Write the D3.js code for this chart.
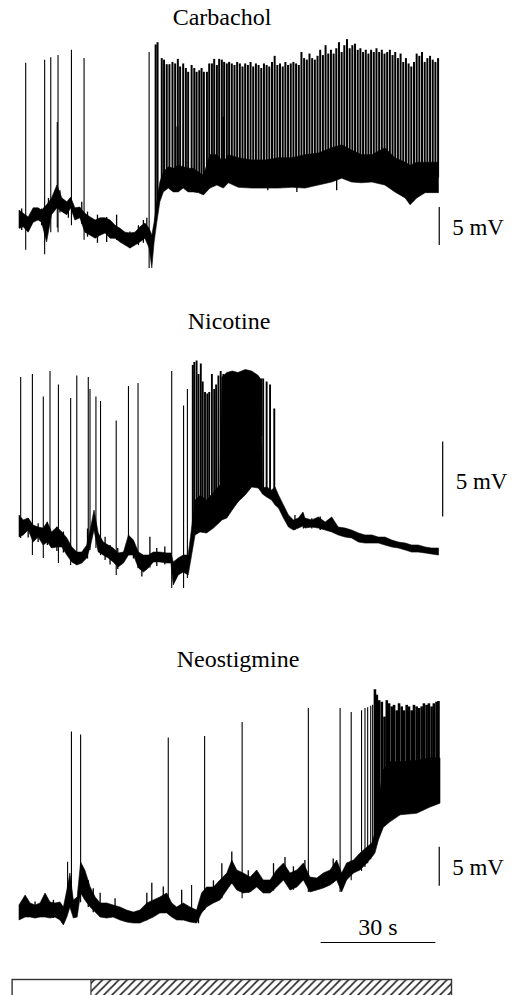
<!DOCTYPE html>
<html>
<head>
<meta charset="utf-8">
<script src="https://cdn.jsdelivr.net/npm/d3@7"></script>
<style>
  body { margin: 0; background: #fff; }
  svg { display: block; }
  text { font-family: "Liberation Serif", "Times New Roman", serif; fill: #000; }
</style>
</head>
<body>
<div id="chart"></div>
<script>
// Noise band of each trace: [time s, low mV, high mV]
const carbEnv = [
  [0, -1.1, 1.3], [1.1, -0.9, 0.9], [2.4, -1.6, 0.4], [3.7, -0.3, 1.6], [5.0, 0, 1.6], [5.9, -0.3, 1.3],
  [7.2, -2.9, 2.0], [8.5, 0.7, 2.9], [9.9, 1.6, 4.6], [11.2, 1.1, 2.9], [12.5, 0.7, 2.4], [13.5, 1.6, 3.0],
  [14.6, 0, 1.6], [15.9, 0.3, 1.7], [17.2, -1.6, 0.9], [18.6, -2.0, 0.4], [19.9, -2.4, 0], [21.2, -2.0, 0.3],
  [22.5, -1.7, 0.3], [23.8, -2.4, 0], [25.1, -2.4, -0.7], [26.4, -2.9, -1.1], [27.7, -3.3, -1.6], [29.0, -3.7, -1.7],
  [30.3, -3.3, -1.6], [31.6, -2.9, -0.9], [32.9, -2.4, -0.4], [34.0, -3.7, -1.1], [34.7, -6.3, -2.0], [35.3, -2.9, -0.3],
  [36.0, -0.3, 2.4], [36.8, 2.4, 5.0], [37.7, 3.7, 6.3], [39.0, 4.2, 7.0], [40.3, 3.7, 6.8], [41.6, 3.7, 7.2],
  [42.9, 4.2, 7.0], [44.2, 3.7, 6.8], [45.5, 3.7, 6.8], [46.9, 3.6, 6.3], [48.2, 3.3, 5.9], [49.9, 4.2, 8.6],
  [51.7, 4.6, 8.6], [53.4, 4.2, 7.6], [54.7, 4.9, 8.6], [57.3, 4.3, 8.2], [60.8, 4.2, 7.9], [64.3, 4.2, 7.9],
  [67.8, 4.2, 8.2], [71.3, 4.3, 8.2], [74.7, 4.2, 8.6], [78.2, 4.6, 8.8], [81.7, 5.0, 9.5], [84.3, 5.5, 9.9],
  [86.9, 5.0, 9.2], [89.5, 4.9, 8.6], [92.2, 5.0, 8.6], [95.6, 4.6, 9.5], [98.2, 3.7, 8.2], [100.9, 2.9, 7.6],
  [102.2, 2.0, 7.2], [103.9, 2.9, 7.6], [106.1, 3.6, 7.6], [109.6, 3.6, 7.6]
];

// Action potentials: [time s, peak mV, trough mV (only for isolated ones)]
const carbSpikes = [
  [1.75, 20.7, -3.9], [6.7, 21.1, -4.5], [8.3, 21.4, -1.6], [10.0, 12.9, -1.0], [10.2, 21.7, -1.6],
  [13.7, 22.4, -0.7], [17.0, 21.3, -2.6], [34.0, 22.1, -6.3],
  [35.7, 23.1], [36.2, 23.4], [37.3, 21.3], [37.9, 21.1], [38.6, 20.5], [39.3, 20.5], [40.1, 20.8],
  [40.8, 20.6], [41.4, 12.3], [41.5, 21.2], [42.1, 20.2], [42.9, 20.6], [43.6, 20.0], [44.2, 19.5], [45.1, 20.4],
  [45.8, 20.0], [46.4, 19.5], [47.1, 19.7], [47.7, 20.0], [48.3, 19.5], [49.1, 19.5], [49.7, 20.6],
  [50.4, 20.6], [51.0, 21.2], [51.7, 20.4], [52.3, 21.2], [53.0, 21.1], [53.4, 13.6], [53.6, 20.8], [54.3, 20.6],
  [54.9, 20.8], [55.6, 20.6], [56.3, 20.4], [57.0, 20.8], [57.7, 20.6], [58.4, 20.2], [59.1, 20.6],
  [59.8, 20.4], [60.5, 20.8], [61.2, 20.2], [61.9, 20.6], [62.6, 20.4], [63.3, 20.0], [64.0, 20.6],
  [64.7, 20.4], [65.4, 20.2], [66.1, 20.8], [66.8, 21.6], [67.5, 20.4], [68.2, 20.6], [68.9, 20.2],
  [69.6, 20.8], [70.3, 20.4], [71.0, 20.6], [71.7, 20.8], [72.4, 20.6], [73.1, 20.4], [73.8, 22.1],
  [74.5, 21.3], [75.2, 21.1], [75.9, 21.9], [76.6, 21.3], [77.3, 21.1], [78.0, 21.6], [78.7, 22.4],
  [79.4, 21.7], [80.1, 23.0], [80.8, 21.9], [81.5, 22.4], [82.2, 21.9], [82.9, 22.6], [83.6, 23.4],
  [84.3, 22.1], [85.0, 23.0], [85.7, 23.8], [86.4, 22.6], [87.1, 23.0], [87.8, 23.2], [88.5, 22.4],
  [89.2, 22.6], [89.9, 22.1], [90.6, 22.4], [91.3, 21.9], [92.0, 22.4], [92.7, 22.1], [93.4, 22.6],
  [94.1, 22.1], [94.8, 22.4], [95.5, 21.9], [96.2, 22.1], [96.9, 22.4], [97.6, 21.7], [98.3, 22.1],
  [99.0, 21.3], [99.7, 21.9], [100.4, 20.8], [101.1, 21.3], [101.8, 20.6], [102.5, 20.2], [103.2, 20.8],
  [103.9, 21.9], [104.6, 21.6], [105.3, 22.1], [106.0, 20.8], [106.7, 21.3], [107.4, 21.6], [108.1, 21.1],
  [108.8, 20.8], [109.5, 21.3]
];

// Small transients poking out of the noise band: [time s, high mV, low mV]
const carbNoise = [
  [0.7, 1.5, -1.3], [5.9, 1.5, -0.7], [7.7, 2.9, -1.0], [10.7, 3.9, 1.0], [12.9, 2.4, 0.3], [16.4, 2.4, -0.5],
  [17.9, 1.1, -2.2], [20.5, 0.7, -3.0], [22.9, 0.4, -2.9], [25.5, 0.7, -2.6], [29.0, -1.5, -3.7],
  [31.2, -0.7, -3.3], [32.5, 0, -3.0], [33.4, 0.3, -2.5],
  [65.0, 6.0, 3.9], [72.6, 6.0, 3.7], [83.0, 7.0, 3.9], [102.6, 5.0, 2.6]
];

const nicEnv = [
  [0, -0.47, 1.0], [1.1, -0.33, 0.67], [2.4, 0, 0.8], [3.7, -0.8, 0.33], [5.0, -0.47, 0.2], [6.3, -1.0, 0.13],
  [7.4, -0.8, 0.53], [8.5, -1.2, -0.13], [9.9, -1.13, 0.2], [11.2, -1.13, -0.13], [12.5, -1.67, -0.53],
  [13.8, -2.13, -1.13], [15.1, -2.33, -1.47], [16.4, -2.2, -1.47], [17.7, -1.87, -1.0], [18.6, -1.13, 0],
  [19.6, 0, 1.33], [20.7, -1.47, -0.2], [22.0, -1.67, -0.8], [23.3, -1.87, -1.0], [24.6, -2.13, -1.2],
  [25.9, -2.47, -1.53], [27.3, -2.2, -1.47], [28.6, -1.67, -0.33], [29.9, -1.67, -0.67], [31.2, -2.53, -1.47],
  [32.5, -2.8, -1.67], [33.8, -2.53, -1.67], [35.1, -2.13, -1.47], [36.8, -2.13, -1.47], [38.6, -2.2, -1.53],
  [39.7, -2.2, -1.53], [40.3, -3.67, -2.13], [41.6, -3.0, -1.87], [42.9, -2.8, -1.67], [44.2, -3.0, -1.67],
  [45.1, -1.67, 0.13], [46.0, -0.33, 2.0], [47.3, -0.13, 2.3], [49.0, -0.2, 2.0], [50.8, 0.13, 2.5],
  [52.5, 0.53, 3.0], [53.0, 0.67, 10.2], [54.3, 0.8, 10.5], [55.7, 1.33, 10.6], [57.2, 1.87, 10.5],
  [59.1, 2.33, 10.7], [60.8, 2.87, 10.6], [62.5, 2.8, 10.3], [63.3, 2.53, 10.0], [63.6, 2.4, 2.8],
  [64.7, 2.2, 2.87], [66.0, 2.0, 2.67], [66.9, 1.67, 2.87], [67.8, 1.47, 2.33], [69.1, 0.8, 1.67],
  [70.4, 0.2, 1.0], [71.7, 0, 0.67], [73.0, 0.13, 0.8], [74.2, 0.27, 1.2], [74.7, 0.13, 0.8], [76.5, 0.2, 0.67],
  [78.2, 0.13, 0.87], [80.0, 0, 0.53], [81.7, -0.13, 0.87], [83.4, -0.33, 0.2], [85.2, -0.47, 0.13],
  [86.9, -0.53, 0], [88.7, -0.8, -0.2], [90.4, -0.87, -0.33], [92.2, -0.87, -0.33], [93.9, -0.87, -0.47],
  [95.6, -1.0, -0.47], [97.4, -1.13, -0.67], [99.1, -1.2, -0.8], [100.9, -1.33, -0.87], [102.6, -1.47, -1.0],
  [104.3, -1.47, -1.0], [106.1, -1.53, -1.13], [107.8, -1.6, -1.2], [109.6, -1.67, -1.2]
];

const nicSpikes = [
  [0.44, 10.2, -0.53], [3.5, 10.4, -1.67], [6.35, 8.9, -1.87], [8.1, 10.6, -0.78], [10.3, 9.7, -2.2],
  [13.5, 8.8, -2.33], [15.1, 10.3, -1.87], [18.1, 10.2, -0.78], [18.55, 9.4, -1.33], [20.1, 8.9, -1.2],
  [21.3, 8.6, -1.67], [25.4, 7.3, -3.0], [28.6, 9.6, -1.67], [31.1, 9.8, -2.53], [39.9, 10.6, -3.87],
  [43.0, 8.3, -3.87], [44.0, 9.4, -3.2],
  [45.4, 11.0], [45.8, 11.2], [46.4, 11.3], [46.9, 10.4], [47.5, 11.1], [48.0, 9.9], [48.6, 9.2],
  [49.2, 9.1], [49.7, 9.2], [50.4, 10.4], [51.0, 9.4], [51.5, 9.7], [52.1, 10.3], [52.7, 10.6], [53.4, 10.4],
  [63.3, 10.1], [63.8, 10.1], [64.7, 9.9], [65.6, 9.7], [66.7, 8.1]
];

const nicNoise = [
  [2.4, 0.78, -0.5], [5.0, 0.45, -0.8], [7.4, 0.55, -1.0], [9.9, 0.22, -1.4], [11.6, -0.1, -1.5],
  [17.9, 0.1, -1.9], [22.5, -0.45, -2.0], [23.8, -1.0, -2.3], [25.8, -1.2, -2.6], [29.9, -0.8, -1.9],
  [32.1, -2.1, -3.1], [34.2, -0.45, -2.5], [36.0, -1.2, -2.4], [38.1, -1.1, -2.3],
  [72.1, 1.0, 0], [74.3, 1.05, 0.1], [76.5, 0.78, 0.1], [78.7, 0.9, 0], [81.7, 0.78, -0.1]
];

const neoEnv = [
  [0, -1.28, 0.64], [1.6, -0.9, 1.92], [2.9, -0.9, 0.9], [4.2, -1.03, 0.64], [5.5, -0.9, 0.9], [6.8, -0.9, 2.18],
  [8.1, -1.03, 1.03], [9.4, -0.9, 0.9], [10.7, -1.28, 1.03], [11.6, -1.92, 0.38], [12.5, -0.9, 2.56],
  [13.3, 0.38, 4.74], [14.2, -1.03, 1.28], [15.2, -0.9, 1.67], [16.1, 2.18, 6.15], [17.2, 1.28, 5.13],
  [18.6, 0.38, 2.95], [19.9, -0.26, 1.67], [21.2, -0.9, 0.9], [22.9, -1.03, 0.9], [24.6, -0.9, 0.64],
  [26.4, -1.28, 0.38], [28.1, -1.54, 0], [29.9, -1.67, -0.26], [31.6, -1.67, 0], [33.4, -1.28, 0.9],
  [35.1, -0.9, 1.28], [36.8, -0.38, 1.67], [38.6, -0.38, 2.18], [39.9, -0.9, 0.9], [41.2, -1.28, 0.38],
  [42.9, -1.28, 0.9], [44.7, -1.54, 0.38], [46.4, -1.67, 0], [47.7, -0.38, 2.18], [49.0, 0.38, 2.95],
  [50.8, 0.9, 2.95], [52.5, 1.28, 3.85], [54.3, 2.56, 4.74], [55.6, 3.46, 6.41], [56.9, 2.56, 5.13],
  [58.6, 2.18, 4.74], [60.4, 2.31, 4.23], [62.1, 2.95, 5.13], [63.8, 2.18, 3.85], [65.6, 2.18, 3.85],
  [67.3, 2.95, 5.13], [69.1, 3.85, 6.03], [70.8, 2.56, 4.74], [72.6, 2.95, 5.13], [74.3, 3.85, 6.03],
  [76.0, 2.31, 4.23], [77.8, 2.56, 4.1], [79.5, 2.82, 4.74], [81.3, 3.21, 5.13], [83.0, 3.85, 6.41],
  [84.3, 2.31, 4.74], [85.6, 3.85, 6.03], [87.4, 4.74, 6.41], [89.1, 5.13, 7.31], [90.9, 6.03, 8.08],
  [92.2, 6.79, 8.59], [93.0, 7.31, 9.87], [93.9, 8.97, 14.0], [95.2, 10.6, 18.0], [96.9, 11.3, 19.0],
  [99.6, 12.2, 19.0], [103.9, 12.4, 19.2], [107.4, 13.2, 19.5], [110.0, 13.7, 19.5]
];

const neoSpikes = [
  [12.7, 6.2, 0.4], [13.7, 22.9, 0.4], [16.1, 22.5, 1.0], [39.0, 22.1, -0.4], [45.1, 3.2, -1.0],
  [48.5, 22.3, 0], [58.3, 24.1, 1.5], [75.6, 25.9, 2.3], [83.9, 25.9, 2.3], [86.8, 25.4, 3.8],
  [89.5, 25.6, 5.0], [90.4, 25.9, 5.5], [91.1, 26.0, 6.0], [91.9, 26.2, 6.5], [92.4, 26.3, 7.0],
  [93.0, 28.3], [93.5, 27.6], [94.1, 26.9], [94.8, 26.7], [95.5, 24.8], [96.1, 26.9], [96.7, 26.5],
  [97.4, 26.1], [98.0, 26.3], [98.7, 25.6], [99.3, 26.5], [100.0, 26.1], [100.6, 25.6], [101.3, 26.3],
  [101.9, 26.1], [102.6, 25.6], [103.2, 26.3], [103.9, 26.1], [104.5, 25.9], [105.2, 26.1], [105.8, 26.5],
  [106.5, 26.3], [107.1, 26.5], [107.8, 26.1], [108.4, 26.5], [109.1, 26.7], [109.6, 26.8]
];

const neoNoise = [
  [4.2, 1.1, -1.0], [9.0, 1.3, -1.0], [18.1, 3.8, 0.4], [19.4, 2.8, -0.3], [21.2, 2.2, -0.9], [25.1, 1.5, -0.9],
  [33.4, 2.2, -1.3], [34.7, 3.5, -0.9], [37.7, 3.0, -0.4], [42.5, 2.6, -1.3], [46.9, 0, -1.7], [50.8, 3.8, 0.9],
  [53.0, 6.0, 1.5], [55.6, 7.5, 3.4], [59.9, 5.1, 2.2], [66.5, 6.0, 2.5], [69.5, 6.8, 3.8], [71.7, 5.6, 2.6],
  [74.7, 6.4, 3.8], [82.1, 6.6, 3.5]
];

// Drug application bar edges (s): record start, drug on, record end
const drugBar = [-1.8, 18.8, 113.0];
const timeBar = [78.8, 108.8];   // 30 s calibration
const titles = ["Carbachol", "Nicotine", "Neostigmine"];

const width = 514, height = 995;

const svg = d3.select("#chart")
  .append("svg")
  .attr("width", width)
  .attr("height", height);

const x = d3.scaleLinear().domain([0, 110]).range([19, 440]);

// Per-panel layout: zero level, px per mV, title and 5 mV bar placement
const panels = [
  { title: titles[0], env: carbEnv, spikes: carbSpikes, noise: carbNoise, y0: 220, k: 7.6, burstW: 2.0, tx: 222, ty: 25, barT: 109.8, barTop: 1.7, ly: 235 },
  { title: titles[1], env: nicEnv, spikes: nicSpikes, noise: nicNoise, y0: 530, k: 15, burstW: 1.9, tx: 229, ty: 329, barT: 110.7, barTop: 5.9, ly: 489 },
  { title: titles[2], env: neoEnv, spikes: neoSpikes, noise: neoNoise, y0: 910, k: 7.8, burstW: 2.6, tx: 238, ty: 667, barT: 109.8, barTop: 8.1, ly: 875 }
];

panels.forEach(p => {
  const y = d3.scaleLinear().domain([0, 10]).range([p.y0, p.y0 - 10 * p.k]);
  const g = svg.append("g");

  // noisy baseline
  g.append("path")
    .datum(p.env)
    .attr("d", d3.area().x(d => x(d[0])).y0(d => y(d[1])).y1(d => y(d[2])))
    .attr("fill", "#000")
    .attr("stroke", "#000")
    .attr("stroke-width", 0.6);

  // small transients
  g.selectAll("line.noise")
    .data(p.noise)
    .join("line")
    .attr("class", "noise")
    .attr("x1", d => x(d[0]))
    .attr("x2", d => x(d[0]))
    .attr("y1", d => y(d[1]))
    .attr("y2", d => y(d[2]))
    .attr("stroke", "#000")
    .attr("stroke-width", 1.3);

  // baseline mid level, used where a spike has no trough of its own
  const mid = d3.scaleLinear()
    .domain(p.env.map(d => d[0]))
    .range(p.env.map(d => (d[1] + d[2]) / 2));

  g.selectAll("line.spike")
    .data(p.spikes)
    .join("line")
    .attr("class", "spike")
    .attr("x1", d => x(d[0]))
    .attr("x2", d => x(d[0]))
    .attr("y1", d => y(d[1]))
    .attr("y2", d => y(d[2] !== undefined ? d[2] : mid(d[0])))
    .attr("stroke", "#000")
    .attr("stroke-width", d => d[2] !== undefined ? 1.1 : p.burstW);

  // title
  svg.append("text")
    .attr("x", p.tx)
    .attr("y", p.ty)
    .attr("text-anchor", "middle")
    .attr("font-size", "24px")
    .text(p.title);

  // 5 mV calibration
  svg.append("line")
    .attr("x1", x(p.barT)).attr("x2", x(p.barT))
    .attr("y1", y(p.barTop)).attr("y2", y(p.barTop - 5))
    .attr("stroke", "#000")
    .attr("stroke-width", 1.2);

  svg.append("text")
    .attr("x", x(p.barT) + 13)
    .attr("y", p.ly)
    .attr("font-size", "23px")
    .text("5 mV");
});

// 30 s calibration
svg.append("line")
  .attr("x1", x(timeBar[0])).attr("x2", x(timeBar[1]))
  .attr("y1", 942.5).attr("y2", 942.5)
  .attr("stroke", "#000")
  .attr("stroke-width", 1.2);

svg.append("text")
  .attr("x", (x(timeBar[0]) + x(timeBar[1])) / 2)
  .attr("y", 935)
  .attr("text-anchor", "middle")
  .attr("font-size", "24px")
  .text("30 s");

// Drug application bar
const defs = svg.append("defs");
defs.append("pattern")
  .attr("id", "hatch")
  .attr("patternUnits", "userSpaceOnUse")
  .attr("width", 8.2)
  .attr("height", 8.2)
  .append("path")
  .attr("d", "M0,8.2 L8.2,0 M-2,2 L2,-2 M6.2,10.2 L10.2,6.2")
  .attr("stroke", "#222")
  .attr("stroke-width", 1.6);

svg.append("rect")
  .attr("x", x(drugBar[1]))
  .attr("y", 979.5)
  .attr("width", x(drugBar[2]) - x(drugBar[1]))
  .attr("height", 20)
  .attr("fill", "url(#hatch)");

svg.append("rect")
  .attr("x", x(drugBar[0]))
  .attr("y", 979.5)
  .attr("width", x(drugBar[2]) - x(drugBar[0]))
  .attr("height", 20)
  .attr("fill", "none")
  .attr("stroke", "#333")
  .attr("stroke-width", 1.4);

svg.append("line")
  .attr("x1", x(drugBar[1])).attr("x2", x(drugBar[1]))
  .attr("y1", 979.5).attr("y2", 999.5)
  .attr("stroke", "#333")
  .attr("stroke-width", 1.2);
</script>
</body>
</html>
